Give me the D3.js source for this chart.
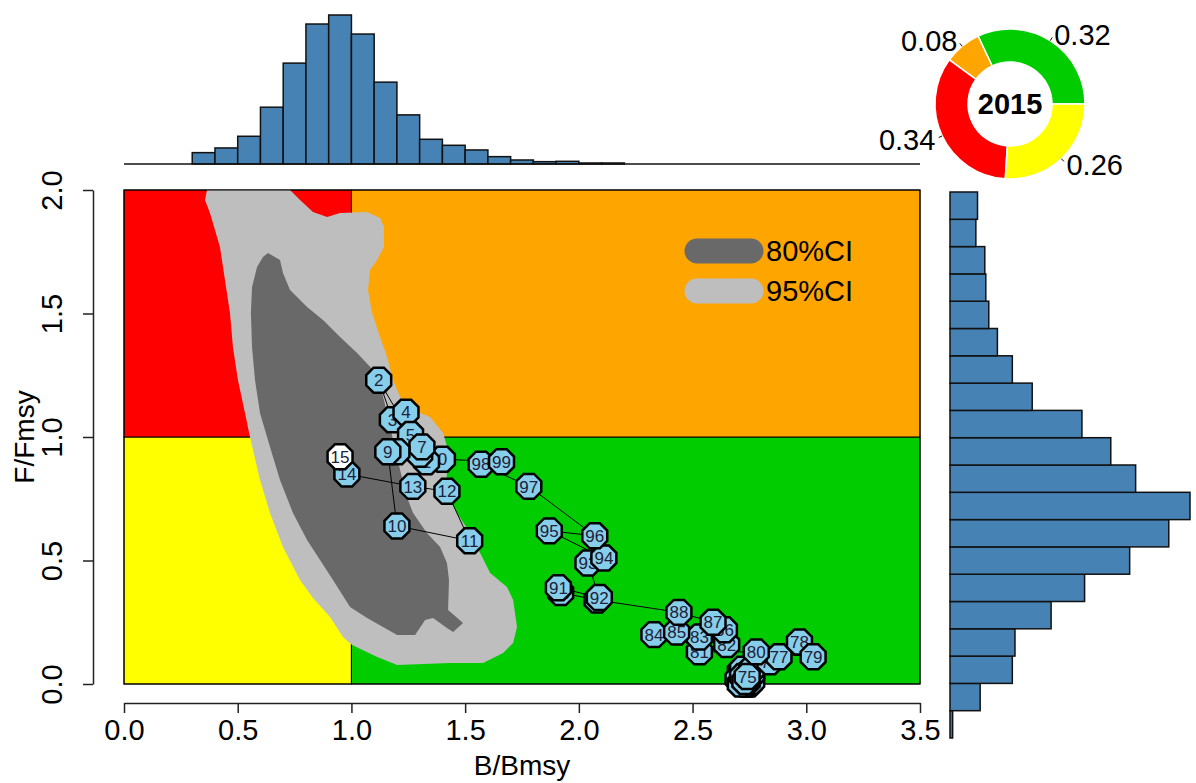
<!DOCTYPE html>
<meta charset="utf-8">

<style type="text/css">
body {
  margin: 0;
  background: #fff;
  font-family: "Liberation Sans", Arial, Helvetica, sans-serif;
}

.axis path, .axis line {
  stroke: #222;
  stroke-width: 1.5px;
}

.axis text {
  font-size: 29px;
  fill: #000;
}

.title {
  font-size: 28px;
}

.bar {
  fill: steelblue;
  stroke: #111;
  stroke-width: 1.5px;
}

.pt-label {
  font-size: 17px;
  fill: #202038;
}
</style>

<body>
  <svg id="svg" width="1196" height="783"></svg>
</body>

<script src="https://cdn.jsdelivr.net/npm/d3@7/dist/d3.min.js"></script>

<script>
  // tick labels
  const xTicks = [0, 0.5, 1, 1.5, 2, 2.5, 3, 3.5];
  const yTicks = [0, 0.5, 1, 1.5, 2];

  // top histogram: B/Bmsy bins of 0.1 starting at 0.3
  const bStarts = [0.3, 0.4, 0.5, 0.6, 0.7, 0.8, 0.9, 1.0, 1.1, 1.2, 1.3, 1.4, 1.5, 1.6, 1.7, 1.8, 1.9, 2.0, 2.1];
  const bCounts = [34, 48, 83, 170, 302, 419, 446, 389, 245, 147, 74, 56, 42, 22, 12, 7, 8, 3, 3];

  // right histogram: F/Fmsy bins of 0.1 starting at 0
  const fStarts = [0, 0.1, 0.2, 0.3, 0.4, 0.5, 0.6, 0.7, 0.8, 0.9, 1.0, 1.1, 1.2, 1.3, 1.4, 1.5, 1.6, 1.7, 1.8, 1.9];
  const fCounts = [8, 91, 188, 196, 305, 406, 542, 660, 724, 560, 485, 398, 248, 188, 143, 117, 108, 105, 78, 83];

  // 95% confidence region outline (B/Bmsy, F/Fmsy)
  const ci95B = [0.365, 0.730, 0.774, 0.831, 0.893, 0.950, 1.069, 1.126, 1.143, 1.143, 1.113, 1.082, 1.073, 1.091, 1.126, 1.157, 1.183, 1.214, 1.271, 1.346, 1.403, 1.425, 1.420, 1.416, 1.464, 1.522, 1.566, 1.610, 1.684, 1.711, 1.728, 1.711, 1.667, 1.579, 1.434, 1.201, 1.113, 1.003, 0.963, 0.906, 0.831, 0.774, 0.699, 0.642, 0.598, 0.554, 0.532, 0.501, 0.479, 0.466, 0.444, 0.422, 0.378, 0.356];
  const ci95F = [2.000, 2.000, 1.960, 1.911, 1.891, 1.907, 1.911, 1.887, 1.850, 1.769, 1.717, 1.676, 1.595, 1.502, 1.405, 1.324, 1.231, 1.162, 1.109, 1.081, 1.016, 0.947, 0.866, 0.777, 0.692, 0.611, 0.530, 0.449, 0.393, 0.340, 0.231, 0.166, 0.126, 0.085, 0.085, 0.077, 0.109, 0.158, 0.190, 0.271, 0.348, 0.421, 0.555, 0.692, 0.826, 1.000, 1.097, 1.231, 1.364, 1.502, 1.636, 1.769, 1.907, 1.960];

  // 80% confidence region outline
  const ci80B = [0.633, 0.686, 0.699, 0.730, 0.805, 0.875, 0.950, 1.025, 1.095, 1.135, 1.157, 1.183, 1.214, 1.244, 1.271, 1.332, 1.390, 1.420, 1.429, 1.425, 1.491, 1.447, 1.420, 1.359, 1.324, 1.280, 1.201, 1.069, 0.994, 0.919, 0.862, 0.805, 0.743, 0.686, 0.642, 0.598, 0.576, 0.563, 0.558, 0.563, 0.585, 0.611];
  const ci80F = [1.745, 1.717, 1.664, 1.595, 1.526, 1.474, 1.405, 1.340, 1.271, 1.178, 1.097, 0.988, 0.866, 0.757, 0.692, 0.611, 0.555, 0.490, 0.421, 0.300, 0.247, 0.211, 0.227, 0.267, 0.259, 0.198, 0.198, 0.267, 0.312, 0.421, 0.502, 0.583, 0.692, 0.826, 0.960, 1.097, 1.231, 1.364, 1.502, 1.607, 1.688, 1.729];

  // stock trajectory
  const years = [1950, 1951, 1952, 1953, 1954, 1955, 1956, 1957, 1958, 1959,
                 1960, 1961, 1962, 1963, 1964, 1965, 1966, 1967, 1968, 1969,
                 1970, 1971, 1972, 1973, 1974, 1975, 1976, 1977, 1978, 1979,
                 1980, 1981, 1982, 1983, 1984, 1985, 1986, 1987, 1988, 1989,
                 1990, 1991, 1992, 1993, 1994, 1995, 1996, 1997, 1998, 1999,
                 2000, 2001, 2002, 2003, 2004, 2005, 2006, 2007, 2008, 2009,
                 2010, 2011, 2012, 2013, 2014, 2015];
  const bTraj = [2.75, 2.74, 2.74, 2.73, 2.72, 2.73, 2.71, 2.72, 2.74, 2.71,
                 2.76, 2.72, 2.70, 2.73, 2.75, 2.74, 2.72, 2.76, 2.73, 2.75,
                 2.71, 2.74, 2.72, 2.76, 2.73, 2.74, 2.84, 2.88, 2.97, 3.03,
                 2.78, 2.53, 2.65, 2.53, 2.33, 2.43, 2.64, 2.59, 2.44, 2.08,
                 1.92, 1.91, 2.09, 2.04, 2.11, 1.87, 2.07, 1.78, 1.57, 1.66,
                 1.40, 1.33, 1.12, 1.18, 1.24, 1.26, 1.30, 1.31, 1.20, 1.16,
                 1.20, 1.52, 1.42, 1.27, 0.98, 0.95];
  const fTraj = [0.00, 0.01, 0.00, 0.02, 0.01, 0.00, 0.03, 0.02, 0.03, 0.05,
                 0.01, 0.04, 0.02, 0.05, 0.03, 0.01, 0.06, 0.04, 0.02, 0.05,
                 0.00, 0.04, 0.03, 0.06, 0.01, 0.03, 0.09, 0.11, 0.17, 0.11,
                 0.13, 0.13, 0.16, 0.19, 0.20, 0.21, 0.22, 0.25, 0.29, 0.34,
                 0.37, 0.39, 0.35, 0.49, 0.51, 0.62, 0.60, 0.80, 0.89, 0.90,
                 0.91, 0.90, 1.23, 1.07, 1.10, 1.01, 0.93, 0.96, 0.94, 0.94,
                 0.64, 0.58, 0.78, 0.80, 0.85, 0.92];

  // stock status probabilities in last year
  const pieNames = ["green", "orange", "red", "yellow"];
  const pieValues = [0.32, 0.08, 0.34, 0.26];
  const lastYear = 2015;

  let svg = d3.select("#svg");

  let x = d3.scaleLinear().domain([0, 3.5]).range([124, 920]);
  let y = d3.scaleLinear().domain([0, 2]).range([684, 190]);

  const quadColor = {red: "#ff0000", orange: "#ffa500", yellow: "#ffff00", green: "#00cc00"};

  // Kobe quadrants
  const quads = [
    {c: "yellow", x0: 0, x1: 1, y0: 0, y1: 1},
    {c: "green", x0: 1, x1: 3.5, y0: 0, y1: 1},
    {c: "red", x0: 0, x1: 1, y0: 1, y1: 2},
    {c: "orange", x0: 1, x1: 3.5, y0: 1, y1: 2}
  ];
  svg.append("g").selectAll("rect")
    .data(quads)
    .enter().append("rect")
      .attr("x", d => x(d.x0))
      .attr("y", d => y(d.y1))
      .attr("width", d => x(d.x1) - x(d.x0))
      .attr("height", d => y(d.y0) - y(d.y1))
      .attr("fill", d => quadColor[d.c])
      .attr("stroke", "#000")
      .attr("stroke-width", 1);

  // confidence regions
  let area = d3.line().x(d => x(d[0])).y(d => y(d[1])).curve(d3.curveLinearClosed);
  svg.append("path")
    .attr("d", area(ci95B.map((b, i) => [b, ci95F[i]])))
    .attr("fill", "#bebebe");
  svg.append("path")
    .attr("d", area(ci80B.map((b, i) => [b, ci80F[i]])))
    .attr("fill", "#696969");

  // frame
  svg.append("rect")
    .attr("x", x(0)).attr("y", y(2))
    .attr("width", x(3.5) - x(0)).attr("height", y(0) - y(2))
    .attr("fill", "none").attr("stroke", "#000").attr("stroke-width", 1);

  // trajectory
  let traj = years.map((yr, i) => ({year: yr, b: bTraj[i], f: fTraj[i]}));
  svg.append("path")
    .attr("d", d3.line().x(d => x(d.b)).y(d => y(d.f))(traj))
    .attr("fill", "none")
    .attr("stroke", "#000")
    .attr("stroke-width", 1);

  // octagon marker like R's big circles
  const r = 13.5;
  let octagon = d3.range(8).map(k => {
    let a = (22.5 + 45 * k) * Math.PI / 180;
    return [r * Math.cos(a), r * Math.sin(a)];
  });
  let pts = svg.append("g").selectAll("g")
    .data(traj)
    .enter().append("g")
      .attr("transform", d => "translate(" + x(d.b) + "," + y(d.f) + ")");
  pts.append("polygon")
    .attr("points", octagon.map(p => p.join(",")).join(" "))
    .attr("fill", d => d.year === lastYear ? "#ffffff" : "#87ceeb")
    .attr("stroke", "#000")
    .attr("stroke-width", 2.5);
  pts.append("text")
    .attr("class", "pt-label")
    .attr("text-anchor", "middle")
    .attr("dy", "0.36em")
    .text(d => d.year % 100);

  // axes
  svg.append("g")
    .attr("class", "axis")
    .attr("transform", "translate(0,703)")
    .call(d3.axisBottom(x).tickValues(xTicks).tickFormat(d3.format(".1f")).tickSize(10).tickPadding(6).tickSizeOuter(0));
  let yAxis = svg.append("g")
    .attr("class", "axis")
    .attr("transform", "translate(93,0)")
    .call(d3.axisLeft(y).tickValues(yTicks).tickFormat(d3.format(".1f")).tickSize(10).tickSizeOuter(0));
  // R style: y tick labels parallel to the axis
  yAxis.selectAll(".tick text")
    .attr("text-anchor", "middle")
    .attr("transform", "rotate(-90)")
    .attr("x", 0)
    .attr("y", -31)
    .attr("dy", "0");

  svg.append("text")
    .attr("class", "title")
    .attr("text-anchor", "middle")
    .attr("x", (x(0) + x(3.5)) / 2)
    .attr("y", 775)
    .text("B/Bmsy");
  svg.append("text")
    .attr("class", "title")
    .attr("text-anchor", "middle")
    .attr("transform", "translate(34," + y(1) + ") rotate(-90)")
    .text("F/Fmsy");

  // legend
  const legendItems = [{label: "80%CI", color: "#696969"}, {label: "95%CI", color: "#bebebe"}];
  let legend = svg.append("g").selectAll("g")
    .data(legendItems)
    .enter().append("g")
      .attr("transform", (d, i) => "translate(0," + (251 + i * 40) + ")");
  legend.append("line")
    .attr("x1", 697).attr("x2", 751)
    .attr("stroke", d => d.color)
    .attr("stroke-width", 25)
    .attr("stroke-linecap", "round");
  legend.append("text")
    .attr("x", 766)
    .attr("dy", "0.36em")
    .attr("font-size", "29px")
    .text(d => d.label);

  // top histogram of B/Bmsy
  let yh = d3.scaleLinear().domain([0, d3.max(bCounts)]).range([164, 15]);
  svg.append("g").selectAll("rect")
    .data(bStarts)
    .enter().append("rect")
      .attr("class", "bar")
      .attr("x", d => x(d))
      .attr("y", (d, i) => yh(bCounts[i]))
      .attr("width", d => x(d + 0.1) - x(d))
      .attr("height", (d, i) => yh(0) - yh(bCounts[i]));
  svg.append("line")
    .attr("x1", x(0)).attr("x2", x(3.5))
    .attr("y1", yh(0)).attr("y2", yh(0))
    .attr("stroke", "#111").attr("stroke-width", 1.5);

  // right histogram of F/Fmsy
  let yr = d3.scaleLinear().domain([0, 2]).range([738, 192]);
  let xr = d3.scaleLinear().domain([0, d3.max(fCounts)]).range([950, 1190]);
  svg.append("g").selectAll("rect")
    .data(fStarts)
    .enter().append("rect")
      .attr("class", "bar")
      .attr("x", xr(0))
      .attr("y", d => yr(d + 0.1))
      .attr("width", (d, i) => xr(fCounts[i]) - xr(0))
      .attr("height", d => yr(d) - yr(d + 0.1));

  // donut of stock status
  const cx = 1010, cy = 104, rOut = 75, rIn = 42;
  let pie = d3.pie().sort(null).startAngle(Math.PI / 2).endAngle(Math.PI / 2 - 2 * Math.PI);
  let arcs = pie(pieValues);
  let arc = d3.arc().innerRadius(rIn).outerRadius(rOut);
  let mid = d => (d.startAngle + d.endAngle) / 2;
  let donut = svg.append("g").attr("transform", "translate(" + cx + "," + cy + ")");
  donut.selectAll("path")
    .data(arcs)
    .enter().append("path")
      .attr("d", arc)
      .attr("fill", (d, i) => quadColor[pieNames[i]])
      .attr("stroke", "#fff")
      .attr("stroke-width", 1.5);
  donut.selectAll("line")
    .data(arcs)
    .enter().append("line")
      .attr("x1", d => Math.sin(mid(d)) * rOut)
      .attr("y1", d => -Math.cos(mid(d)) * rOut)
      .attr("x2", d => Math.sin(mid(d)) * rOut * 1.05)
      .attr("y2", d => -Math.cos(mid(d)) * rOut * 1.05)
      .attr("stroke", "#000");
  donut.selectAll("text.lab")
    .data(arcs)
    .enter().append("text")
      .attr("class", "lab")
      .attr("font-size", "29px")
      .attr("x", d => Math.sin(mid(d)) * rOut * 1.1)
      .attr("y", d => -Math.cos(mid(d)) * rOut * 1.1)
      .attr("dy", "0.36em")
      .attr("text-anchor", d => Math.sin(mid(d)) > 0 ? "start" : "end")
      .text(d => d.data.toFixed(2));
  donut.append("text")
    .attr("text-anchor", "middle")
    .attr("dy", "0.36em")
    .attr("font-size", "29px")
    .attr("font-weight", "bold")
    .text(lastYear);
</script>
